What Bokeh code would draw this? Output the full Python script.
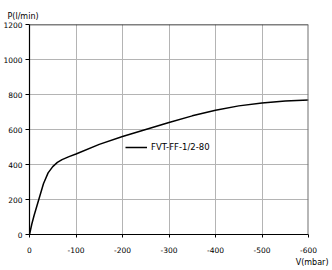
from bokeh.plotting import figure
from bokeh.models import Range1d, Legend, LegendItem, Span, FixedTicker, Title
from bokeh.embed import file_html
from bokeh.resources import INLINE

vacuum = [0, -5, -10, -20, -30, -40, -50, -60, -70, -85, -100, -150, -200, -250, -300, -350, -400, -450, -500, -550, -600]
flow = [0, 60, 110, 200, 290, 352, 388, 412, 428, 445, 460, 515, 560, 600, 640, 678, 710, 735, 752, 763, 768]
x_ticks = [0, -100, -200, -300, -400, -500, -600]
y_ticks = [0, 200, 400, 600, 800, 1000, 1200]
series_name = "FVT-FF-1/2-80"
y_title = "P(l/min)"
x_title = "V(mbar)"

FONT = "DejaVu Sans"

p = figure(width=332, height=270, output_backend="svg", toolbar_location=None,
           x_range=Range1d(0, -600), y_range=Range1d(0, 1200),
           min_border_left=27, min_border_right=24, min_border_top=24, min_border_bottom=36)
p.outline_line_color = None
p.background_fill_color = "white"
p.border_fill_color = "white"

for ax in (p.xaxis[0], p.yaxis[0]):
    ax.axis_line_color = "black"
    ax.axis_line_width = 1.2
    ax.major_tick_line_color = "black"
    ax.minor_tick_line_color = None
    ax.major_label_text_font = FONT
    ax.major_label_text_font_size = "7.5px"
    ax.major_label_text_color = "black"

p.xaxis[0].ticker = FixedTicker(ticks=x_ticks)
p.yaxis[0].ticker = FixedTicker(ticks=y_ticks)
p.xaxis[0].major_label_overrides = {t: str(t) for t in x_ticks}
p.xaxis[0].major_tick_out = 3
p.xaxis[0].major_tick_in = 0
p.xaxis[0].major_label_standoff = 9
p.yaxis[0].major_tick_out = 4
p.yaxis[0].major_tick_in = 0
p.yaxis[0].major_label_standoff = 3

p.xgrid[0].ticker = FixedTicker(ticks=x_ticks)
p.ygrid[0].ticker = FixedTicker(ticks=y_ticks)
p.xgrid.grid_line_color = "#b4b4b4"
p.ygrid.grid_line_color = "#b4b4b4"
p.xgrid.grid_line_width = 1
p.ygrid.grid_line_width = 1

p.add_layout(Span(location=1200, dimension="width", line_color="black", line_width=1.5))
p.add_layout(Span(location=-600, dimension="height", line_color="#707070", line_width=2))

r = p.line(vacuum, flow, line_color="black", line_width=1.5)

legend = Legend(items=[LegendItem(label=series_name, renderers=[r])],
                location=(96, 77), padding=0, margin=0, spacing=0,
                glyph_width=22, glyph_height=20, label_height=20, label_standoff=4,
                border_line_color=None, background_fill_alpha=0,
                label_text_font=FONT, label_text_font_size="8.5px", label_text_color="black")
p.add_layout(legend)

p.add_layout(Title(text=y_title, align="left", offset=-22, standoff=8,
                   text_font=FONT, text_font_size="8px", text_font_style="normal",
                   text_color="black"), "above")
p.add_layout(Title(text=x_title, align="right", offset=-20, standoff=0,
                   text_font=FONT, text_font_size="8px", text_font_style="normal",
                   text_color="black"), "below")

open("out.html", "w").write(file_html(p, INLINE))
